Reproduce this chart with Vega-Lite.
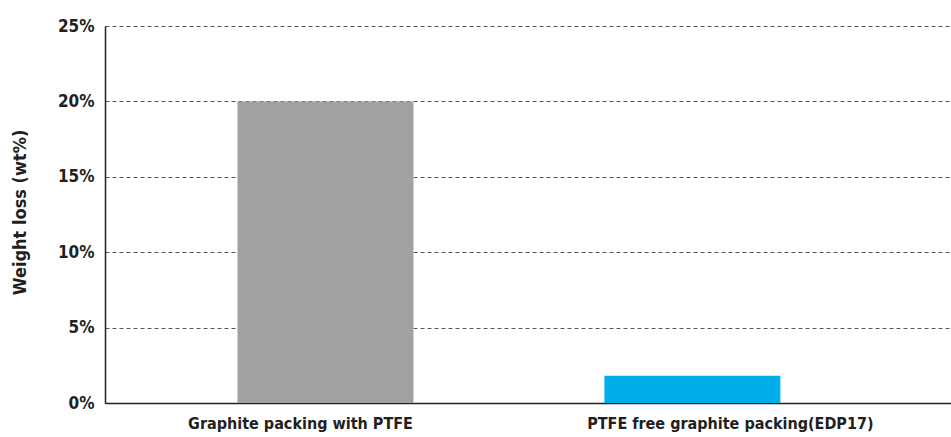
{
  "$schema": "https://vega.github.io/schema/vega-lite/v6.json",
  "width": 846,
  "height": 377,
  "autosize": {"type": "none"},
  "padding": {"left": 105, "top": 26, "right": 0, "bottom": 34},
  "background": "white",
  "config": {
    "view": {"stroke": null},
    "font": "DejaVu Sans Condensed"
  },
  "data": {
    "values": [
      {"sample": "Graphite packing with PTFE", "loss": 0.20},
      {"sample": "PTFE free graphite packing(EDP17)", "loss": 0.018}
    ]
  },
  "mark": {"type": "bar", "width": 176},
  "encoding": {
    "x": {
      "field": "sample",
      "type": "nominal",
      "sort": null,
      "scale": {"paddingInner": 0, "paddingOuter": 0.153, "align": 0.33},
      "axis": {
        "title": null,
        "labelAngle": 0,
        "labelFont": "DejaVu Sans Condensed",
        "labelFontSize": 16,
        "labelFontWeight": "bold",
        "labelColor": "#231f20",
        "labelPadding": 12,
        "labelLimit": 0,
        "labelOffset": {"condition": {"test": "datum.value == 'Graphite packing with PTFE'", "value": -25}, "value": 38},
        "ticks": false,
        "domainColor": "#231f20",
        "domainWidth": 1.5,
        "grid": false
      }
    },
    "y": {
      "field": "loss",
      "type": "quantitative",
      "scale": {"domain": [0, 0.25], "nice": false},
      "axis": {
        "title": "Weight loss (wt%)",
        "format": ".0%",
        "values": [0, 0.05, 0.1, 0.15, 0.2, 0.25],
        "ticks": false,
        "labelFont": "DejaVu Sans Condensed",
        "labelFontSize": 17,
        "labelFontWeight": "bold",
        "labelColor": "#231f20",
        "labelPadding": 11,
        "domainColor": "#231f20",
        "domainWidth": 1.5,
        "grid": true,
        "gridColor": "#555555",
        "gridDash": [4, 3],
        "gridWidth": 1,
        "titleFont": "DejaVu Sans Condensed",
        "titleFontSize": 18,
        "titleFontWeight": "bold",
        "titleColor": "#231f20",
        "titleAngle": -90,
        "titleAlign": "center",
        "titleBaseline": "middle",
        "titleX": -85,
        "titleY": 186
      }
    },
    "color": {
      "field": "sample",
      "type": "nominal",
      "scale": {"range": ["#a0a1a0", "#00aeea"]},
      "legend": null
    }
  }
}
